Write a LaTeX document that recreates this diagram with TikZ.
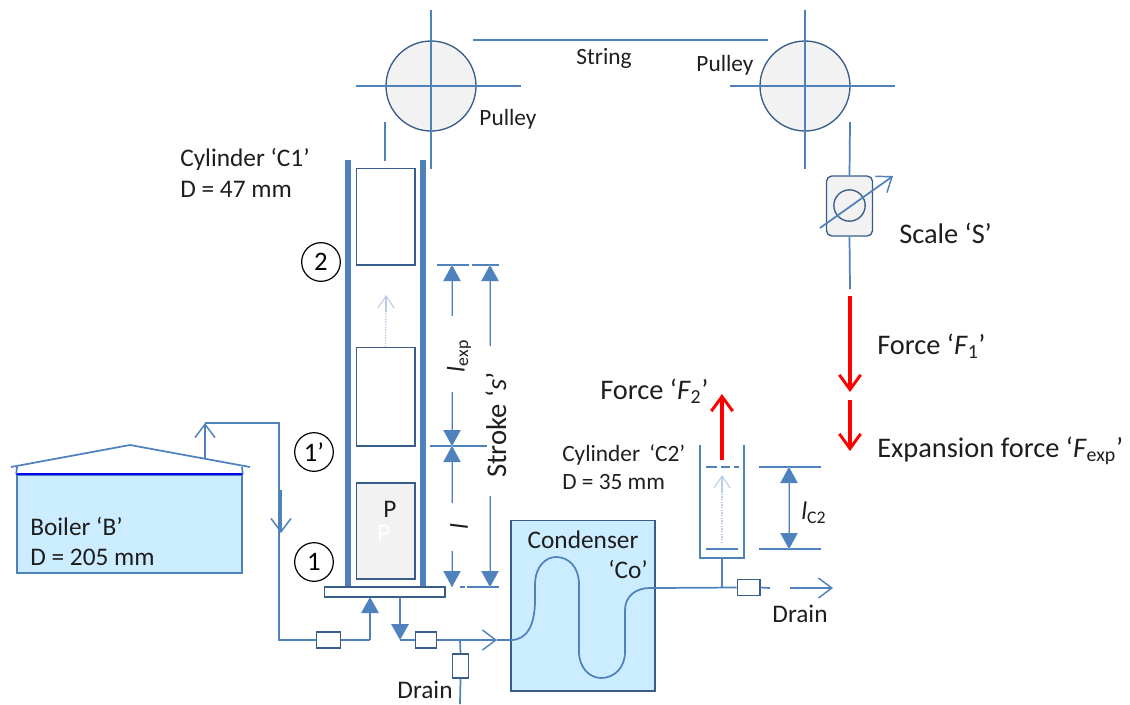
\documentclass[tikz,border=0pt]{standalone}
\usepackage{fontspec}
\setmainfont{Carlito}
\usetikzlibrary{arrows.meta}
\definecolor{pipeblue}{RGB}{79,129,189}
\definecolor{darkblue}{RGB}{56,93,138}
\definecolor{paleblue}{RGB}{204,236,255}
\definecolor{palegrey}{RGB}{242,242,242}
\definecolor{fadeblue}{RGB}{185,205,229}
\definecolor{textdark}{RGB}{30,30,30}
\tikzset{
	pipe/.style={draw=pipeblue,line width=1.3pt},
	wall/.style={draw=pipeblue,line width=4pt},
	dimline/.style={draw=fadeblue,line width=1.3pt},
	openarrow/.style={-{Straight Barb[length=10pt,width=15pt,line width=1.1pt]}},
	faintarrow/.style={draw=fadeblue,line width=.8pt,-{Straight Barb[length=9pt,width=12pt,line width=.8pt]}},
	fillarrow/.style={-{Triangle[length=12pt,width=13pt,fill=pipeblue]}},
	redarrow/.style={draw=red,line width=2.6pt,-{Straight Barb[length=11pt,width=16pt,line width=2.2pt]}},
	valve/.style={draw=darkblue,fill=white,line width=1pt,minimum width=18pt,minimum height=12pt,inner sep=0pt},
	piston/.style={draw=darkblue,line width=1pt,minimum width=44pt,inner sep=0pt},
	pulley/.style={circle,draw=darkblue,fill=palegrey,line width=1pt,minimum size=67.5pt,inner sep=0pt},
	station/.style={circle,draw=black,line width=.9pt,minimum size=29pt,inner sep=0pt,font=\fontsize{20}{22}\selectfont},
	label/.style={text=textdark,font=\fontsize{19}{22}\selectfont,inner sep=0pt},
	smalllabel/.style={text=textdark,font=\fontsize{17.5}{20}\selectfont,inner sep=0pt},
	biglabel/.style={text=textdark,font=\fontsize{21.3}{24}\selectfont,inner sep=0pt,anchor=west},
	leftlabel/.style={label,anchor=west}
}
\begin{document}
\begin{tikzpicture}[x=0.75pt,y=-0.75pt]
	\useasboundingbox (0,0) rectangle (1130,704);

	% pulleys
	\node[pulley] (pulleyA) at (431,86) {};
	\node[pulley] (pulleyB) at (805,86) {};
	\foreach \p/\cx in {A/431,B/805}{
		\coordinate (n\p) at (\cx,10);
		\coordinate (s\p) at (\cx,169);
		\coordinate (w\p) at (\cx-75,86);
		\coordinate (e\p) at (\cx+90,86);
		\draw[pipe] (n\p) -- (s\p);
		\draw[pipe] (w\p) -- (e\p);
	}
	\coordinate (stringL) at (473,40);
	\coordinate (stringR) at (768,40);
	\draw[pipe] (stringL) -- (stringR);
	\coordinate (hookTop) at (385,122);
	\coordinate (hookEnd) at (385,161);
	\draw[pipe] (hookTop) -- (hookEnd);

	% scale
	\node[
		draw=darkblue,
		fill=palegrey,
		line width=1pt,
		rounded corners=4pt,
		minimum width=34.5pt,
		minimum height=45pt,
		inner sep=0pt
		] (scale) at (849.5,206) {};
	\node[circle,draw=darkblue,line width=1pt,minimum size=23.5pt,inner sep=0pt] (dial) at (849.5,205.5) {};
	\coordinate (scaleTop) at (850,122);
	\coordinate (scaleEnd) at (850,289);
	\draw[pipe] (scaleTop) -- (scale.north);
	\draw[pipe] (scale.south) -- (scaleEnd);
	\coordinate (needleA) at (820,228);
	\coordinate (needleB) at (893,176);
	\draw[pipe,openarrow] (needleA) -- (needleB);

	% forces
	\coordinate (forceOneA) at (850,296);
	\coordinate (forceOneB) at (850,392);
	\coordinate (forceExpA) at (850,400);
	\coordinate (forceExpB) at (850,451);
	\coordinate (forceTwoA) at (722,460);
	\coordinate (forceTwoB) at (722,394);
	\draw[redarrow] (forceOneA) -- (forceOneB);
	\draw[redarrow] (forceExpA) -- (forceExpB);
	\draw[redarrow] (forceTwoA) -- (forceTwoB);

	% cylinder C1
	\coordinate (wallAt) at (348,160);
	\coordinate (wallAb) at (348,587);
	\coordinate (wallBt) at (423,160);
	\coordinate (wallBb) at (423,587);
	\draw[wall] (wallAt) -- (wallAb);
	\draw[wall] (wallBt) -- (wallBb);
	\node[draw=darkblue,fill=white,line width=1pt,minimum width=90.5pt,minimum height=7.5pt,inner sep=0pt] (base) at (384.5,592) {};
	\node[piston,minimum height=72.5pt] (pistonTop) at (385.5,216.5) {};
	\node[piston,minimum height=74pt] (pistonMid) at (385.5,396.5) {};
	\node[piston,minimum height=72pt,fill=palegrey] (pistonLow) at (385.5,531) {};
	\node[label,text=white] (ghostP) at (384,533) {P};
	\node[label] (letterP) at (390,509) {P};
	\coordinate (travelTop) at (386,295);
	\coordinate (travelMid) at (386,312);
	\draw[fadeblue,line width=1pt,densely dotted] (pistonMid.north) -- (travelMid);
	\draw[faintarrow] (travelMid) -- (travelTop);

	\node[station] (stTwo) at (321,262) {2};
	\node[station] (stOneP) at (314,452) {1’};
	\node[station] (stOne) at (314,562) {1};

	% dimensions of C1
	\foreach \nm/\xa/\ya/\xb/\yb in {topA/437/265/469/265,topB/472/265/499/265,midA/430/446/487/446,lowB/467/587/499/587}{
		\coordinate (\nm a) at (\xa,\ya);
		\coordinate (\nm b) at (\xb,\yb);
		\draw[pipe] (\nm a) -- (\nm b);
	}
	\coordinate (lowAa) at (460,587);
	\coordinate (lowAb) at (465,587);
	\draw[pipe] (lowAa) -- (lowAb);
	\foreach \xa/\ya/\yb in {452/316/265,452/392/446,452/503/446,452/551/587,490/346/265,490/496/587}{
		\draw[dimline] (\xa,\ya) -- (\xa,\yb);
		\draw[pipeblue,line width=.1pt,fillarrow] (\xa,\ya) -- (\xa,\yb);
	}
	\node[label,rotate=90] (lexp) at (459,356) {\textit{l}\textsubscript{exp}};
	\node[label,rotate=90] (lshort) at (459,527) {\textit{l}};
	\node[label,rotate=90,font=\fontsize{21.5}{24}\selectfont] (stroke) at (496,425) {Stroke ‘\textit{s}’};

	% boiler
	\node[
		draw=pipeblue,
		fill=paleblue,
		line width=1.2pt,
		minimum width=168.75pt,
		minimum height=73.5pt,
		inner sep=0pt
		] (boiler) at (129.5,524) {};
	\draw[blue,line width=1.2pt] (boiler.north west) -- (boiler.north east);
	\coordinate (roofL) at (11,467);
	\coordinate (roofLi) at (17,467);
	\coordinate (roofP) at (130,445);
	\coordinate (roofR) at (250,467);
	\coordinate (roofRi) at (242,467);
	\draw[pipe] (boiler.north west) -- (roofLi);
	\draw[pipe] (boiler.north east) -- (roofRi);
	\draw[pipe] (roofL) -- (roofP) -- (roofR);
	\node[leftlabel] (boilerName) at (30,526) {Boiler ‘B’};
	\node[leftlabel] (boilerDia) at (30,557) {D = 205 mm};

	% steam pipe
	\coordinate (steamOut) at (205,459);
	\coordinate (steamUp) at (205,423);
	\coordinate (steamTurn) at (279,423);
	\coordinate (steamLow) at (279,640);
	\coordinate (steamArrA) at (281,490);
	\coordinate (steamArrB) at (281,533);
	\coordinate (steamIn) at (370,640);
	\coordinate (steamEnd) at (370,597);
	\node[valve] (valveIn) at (328.5,640) {};
	\draw[pipe] (steamUp) -- (steamTurn) -- (steamLow) -- (valveIn.west);
	\draw[pipe,openarrow] (steamOut) -- (steamUp);
	\draw[pipe,openarrow] (steamArrA) -- (steamArrB);
	\draw[pipe] (valveIn.east) -- (steamIn);
	\draw[pipe,fillarrow] (steamIn) -- (steamEnd);

	% condenser
	\node[
		draw=darkblue,
		fill=paleblue,
		line width=1pt,
		minimum width=108pt,
		minimum height=128pt,
		inner sep=0pt
		] (condenser) at (583,605.5) {};
	\coordinate (coilIn) at (511,640);
	\coordinate (coilOut) at (655,588);
	\draw[pipe]
		(coilIn) .. controls (527,640) and (535,625) .. (535,600)
		-- (535,585) .. controls (535,566) and (546,557) .. (556,557)
		.. controls (568,557) and (579,566) .. (579,585)
		-- (579,652) .. controls (579,668) and (590,678) .. (601,678)
		.. controls (614,678) and (625,668) .. (625,652)
		-- (625,610) .. controls (625,596) and (636,588) .. (650,588)
		-- (coilOut);
	\node[label] (condName) at (583,540) {Condenser};
	\node[label] (condCode) at (628,569) {‘Co’};

	% outlet of C1
	\coordinate (outTop) at (400,597);
	\coordinate (outBend) at (400,640);
	\coordinate (outArrow) at (497,640);
	\coordinate (outTee) at (460,640);
	\coordinate (drainEnd) at (460,704);
	\node[valve,minimum width=16pt] (valveOut) at (426,640) {};
	\node[valve,minimum width=12pt,minimum height=18pt] (valveDrain) at (460.5,666) {};
	\draw[pipe,line width=1.6pt,fillarrow] (outTop) -- (outBend);
	\draw[pipe] (outBend) -- (valveOut.west);
	\draw[pipe,openarrow] (valveOut.east) -- (outArrow);
	\draw[pipe] (outArrow) -- (coilIn);
	\draw[pipe] (outTee) -- (valveDrain.north);
	\draw[pipe] (valveDrain.south) -- (drainEnd);
	\node[label] (drainA) at (425,690) {Drain};

	% cylinder C2
	\coordinate (cylTl) at (700,445);
	\coordinate (cylBl) at (700,558);
	\coordinate (cylBr) at (744,558);
	\coordinate (cylTr) at (744,445);
	\draw[pipe] (cylTl) -- (cylBl) -- (cylBr) -- (cylTr);
	\coordinate (pistonL) at (706,467);
	\coordinate (pistonR) at (739,467);
	\draw[pipe,dash pattern=on 8pt off 3pt on 7pt off 3pt] (pistonL) -- (pistonR);
	\coordinate (floorL) at (706,549);
	\coordinate (floorR) at (738,549);
	\draw[pipe] (floorL) -- (floorR);
	\coordinate (cylTravelA) at (722,543);
	\coordinate (cylTravelB) at (722,492);
	\coordinate (cylTravelC) at (722,475);
	\draw[fadeblue,line width=1pt,densely dotted] (cylTravelA) -- (cylTravelB);
	\draw[faintarrow] (cylTravelB) -- (cylTravelC);

	\coordinate (stemTop) at (722,558);
	\coordinate (stemLow) at (722,588);
	\node[valve,minimum width=17pt] (valveC) at (748.5,587.5) {};
	\coordinate (drainStubEnd) at (770,588);
	\coordinate (drainArrA) at (790,588);
	\coordinate (drainArrB) at (833,588);
	\draw[pipe] (stemTop) -- (stemLow);
	\draw[pipe] (coilOut) -- (valveC.west);
	\draw[pipe] (valveC.east) -- (drainStubEnd);
	\draw[pipe,openarrow] (drainArrA) -- (drainArrB);
	\node[label] (drainB) at (800,614) {Drain};

	\foreach \nm/\yy in {upper/467,lower/549}{
		\coordinate (\nm L) at (759,\yy);
		\coordinate (\nm R) at (821,\yy);
		\draw[pipe] (\nm L) -- (\nm R);
	}
	\coordinate (lcMid) at (789,508);
	\coordinate (lcTop) at (789,467);
	\coordinate (lcLow) at (789,549);
	\draw[dimline,line width=2pt] (lcMid) -- (lcTop);
	\draw[dimline,line width=2pt] (lcMid) -- (lcLow);
	\draw[pipeblue,line width=.1pt,fillarrow] (lcMid) -- (lcTop);
	\draw[pipeblue,line width=.1pt,fillarrow] (lcMid) -- (lcLow);
	\node[leftlabel] (lcTwo) at (801,513) {\textit{l}\textsubscript{C2}};

	% labels
	\node[leftlabel] (cylOneName) at (180,159) {Cylinder ‘C1’};
	\node[leftlabel] (cylOneDia) at (180,189) {D = 47 mm};
	\node[smalllabel] (pulleyTextA) at (508,119) {Pulley};
	\node[smalllabel] (pulleyTextB) at (725,65) {Pulley};
	\node[smalllabel] (stringText) at (604,58) {String};
	\node[biglabel] (scaleText) at (899,233) {Scale ‘S’};
	\node[biglabel] (forceOne) at (877,346) {Force ‘\textit{F}\textsubscript{1}’};
	\node[biglabel] (forceTwo) at (600,391) {Force ‘\textit{F}\textsubscript{2}’};
	\node[biglabel] (forceExp) at (877,451) {Expansion force ‘\textit{F}\textsubscript{exp}’};
	\node[smalllabel,anchor=west] (cylTwoName) at (562,455) {Cylinder \,‘C2’};
	\node[smalllabel,anchor=west] (cylTwoDia) at (562,482) {D = 35 mm};
\end{tikzpicture}
\end{document}
